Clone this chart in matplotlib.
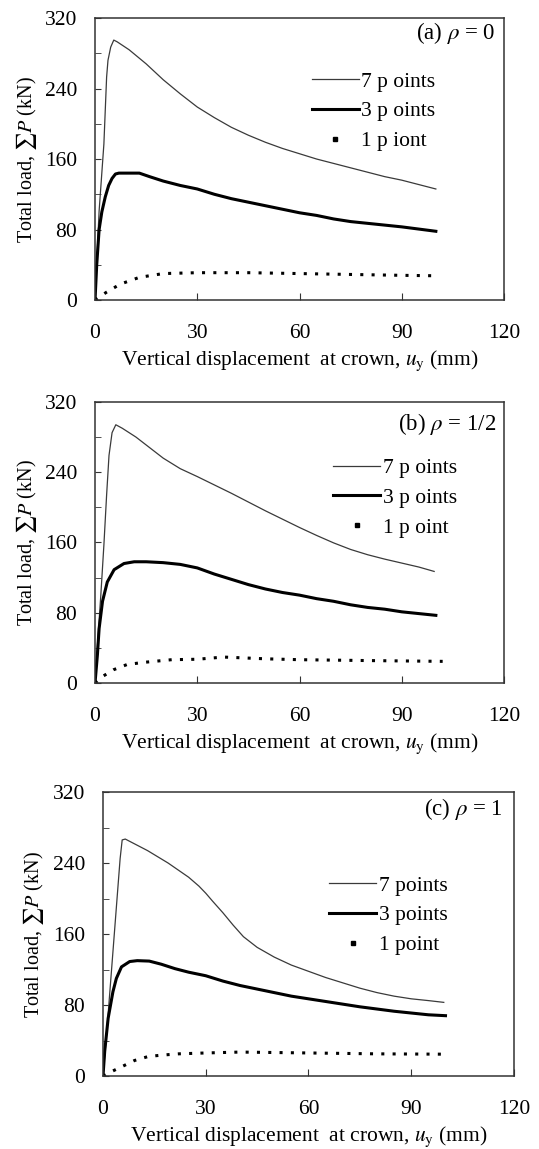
import matplotlib
matplotlib.use('Agg')
import matplotlib.pyplot as plt
from matplotlib.lines import Line2D
from matplotlib.ticker import MultipleLocator

plt.rcParams['font.family'] = ['Liberation Serif', 'DejaVu Serif']
plt.rcParams['mathtext.fontset'] = 'stix'

# ---- panel (a) rho = 0
a7_x = [0, 1.2, 2.6, 3.4, 3.8, 4.6, 5.5, 6.5, 10, 15, 20, 25, 30, 35, 40, 45, 50, 55, 60, 65, 70, 75, 80, 85, 90, 95, 100]
a7_y = [0, 101, 177, 253, 272, 287, 295, 293, 284, 268, 250, 234, 219, 207, 196, 187, 179, 172, 166, 160, 155, 150, 145, 140, 136, 131, 126]
a3_x = [0, 0.5, 1.2, 2.0, 3.0, 4.0, 5.0, 6.0, 7, 13, 16, 20, 25, 30, 35, 40, 45, 50, 55, 60, 65, 70, 75, 80, 85, 90, 95, 100]
a3_y = [0, 40, 80, 100, 117, 130, 138, 143, 144, 144, 140, 135, 130, 126, 120, 115, 111, 107, 103, 99, 96, 92, 89, 87, 85, 83, 80.5, 78]
a1_x = [0, 3.3, 7.4, 13, 20, 30, 45, 60, 75, 90, 100]
a1_y = [0, 8.7, 18, 25.7, 30, 31, 31, 30, 29, 28, 27.5]

# ---- panel (b) rho = 1/2
b7_x = [0, 0.7, 1.7, 2.6, 3.4, 4.1, 5, 6.1, 8, 12, 16, 20, 25, 30, 35, 40, 45, 50, 55, 60, 65, 70, 75, 80, 85, 90, 95, 99.5]
b7_y = [0, 43, 100, 157, 214, 259, 285, 294, 290, 280, 268, 256, 244, 235, 225.5, 216, 206, 196, 186.5, 177, 168, 159.5, 152, 146, 141, 136.5, 132, 127]
b3_x = [0, 0.7, 1.2, 2.2, 3.6, 5.6, 8.5, 11.5, 15, 20, 25, 30, 35, 40, 45, 50, 55, 60, 65, 70, 75, 80, 85, 90, 95, 100]
b3_y = [0, 32, 62, 93, 115, 129, 136, 138, 138, 137, 135, 131, 124, 118, 112, 107, 103, 100, 96, 93, 89, 86, 84, 81, 79, 77]
b1_x = [0, 2.3, 5.4, 9.4, 14.4, 22.5, 30, 37.7, 50, 60, 80, 102]
b1_y = [0, 7.6, 15, 21, 23.5, 26.5, 27, 29.5, 27.5, 26.5, 25.5, 24.6]

# ---- panel (c) rho = 1
c7_x = [0, 1, 2, 3, 4, 5, 5.6, 6.5, 8, 10, 13, 16, 19, 22, 25, 28, 30, 32, 35, 38, 41, 45, 50, 55, 60, 65, 70, 75, 80, 85, 90, 95, 99.5]
c7_y = [0, 45, 95, 145, 195, 245, 266, 267, 264, 260, 254, 247, 240, 232, 224, 214, 206, 197, 184, 170, 157, 145, 134, 125, 118, 111, 105, 99, 94, 90, 87, 85, 83]
c3_x = [0, 0.5, 1.5, 2.9, 3.9, 5.4, 7.8, 10, 13.5, 17, 21, 25, 30, 35, 40, 45, 50, 55, 60, 65, 70, 75, 80, 85, 90, 95, 100]
c3_y = [0, 28, 65, 95, 110, 123, 129, 130, 129.5, 126, 121, 117, 113, 107, 102, 98, 94, 90, 87, 84, 81, 78, 75.5, 73, 71, 69, 68]
c1_x = [0, 2.2, 5.2, 9.2, 13.2, 17, 22, 30, 40, 60, 80, 101]
c1_y = [0, 4.5, 10, 17.5, 22, 23.5, 25, 26, 27, 26, 25, 24.6]

panels = [
    dict(rect=[0.1763, 0.7389, 0.7588, 0.2454], title=r'(a) $\rho$ = 0', tpos=(0.978, 0.946),
         s7=(a7_x, a7_y), s3=(a3_x, a3_y), s1=(a1_x, a1_y),
         labels=['7 p oints', '3 p oints', '1 p iont'], lpos=(0.53, 0.81)),
    dict(rect=[0.1763, 0.4056, 0.7588, 0.2446], title=r'(b) $\rho$ = 1/2', tpos=(0.982, 0.922),
         s7=(b7_x, b7_y), s3=(b3_x, b3_y), s1=(b1_x, b1_y),
         labels=['7 p oints', '3 p oints', '1 p oint'], lpos=(0.582, 0.80)),
    dict(rect=[0.1911, 0.0635, 0.7625, 0.2472], title=r'(c) $\rho$ = 1', tpos=(0.973, 0.939),
         s7=(c7_x, c7_y), s3=(c3_x, c3_y), s1=(c1_x, c1_y),
         labels=['7 points', '3 points', '1 point'], lpos=(0.55, 0.706)),
]

fig = plt.figure(figsize=(5.39, 11.49), dpi=100)

for p in panels:
    ax = fig.add_axes(p['rect'])
    ax.plot(*p['s7'], color='#3a3a3a', lw=0.9)
    ax.plot(*p['s3'], color='black', lw=2.2)
    ax.plot(*p['s1'], color='black', lw=2.2, linestyle=(0, (1, 2.7)))

    ax.set_xlim(0, 120)
    ax.set_ylim(0, 320)
    ax.xaxis.set_major_locator(MultipleLocator(30))
    ax.yaxis.set_major_locator(MultipleLocator(80))
    ax.yaxis.set_minor_locator(MultipleLocator(40))
    ax.tick_params(axis='both', which='both', direction='in', labelsize=15.5, color='#333333')
    ax.tick_params(axis='x', which='major', length=5, pad=17)
    ax.tick_params(axis='y', which='both', length=4, pad=13)
    for sp in ax.spines.values():
        sp.set_linewidth(1.1)
        sp.set_color('#333333')

    ax.set_xlabel(r'Vertical displacement  at crown, $u_\mathrm{y}$ (mm)', fontsize=15.5)
    ax.set_ylabel(r'Total load, $\sum P$ (kN)', fontsize=14.5)
    ax.xaxis.set_label_coords(0.5, -0.172)
    ax.yaxis.set_label_coords(-0.138, 0.5)

    ax.text(p['tpos'][0], p['tpos'][1], p['title'], transform=ax.transAxes,
            ha='right', va='center', fontsize=16.5)

    handles = [Line2D([], [], color='#3a3a3a', lw=0.9),
               Line2D([], [], color='black', lw=2.2),
               Line2D([], [], color='black', ls='none', marker='s', ms=2.2)]
    ax.legend(handles, p['labels'], loc='upper left', bbox_to_anchor=p['lpos'],
              frameon=False, fontsize=15.5, handlelength=2.2, handletextpad=0.1,
              labelspacing=0.45, borderpad=0, borderaxespad=0)

fig.savefig('out.png', dpi=100)
